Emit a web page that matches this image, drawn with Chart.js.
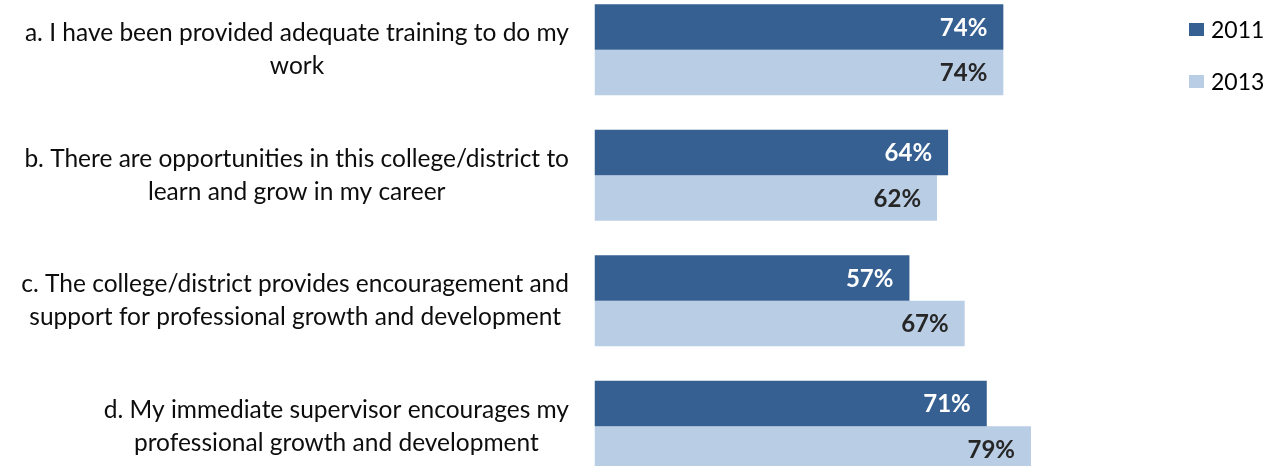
<!DOCTYPE html>
<html lang="en">
<head>
  <meta charset="UTF-8" />
  <title>Training and Professional Growth</title>
  <script src="https://cdn.jsdelivr.net/npm/chart.js"></script>
  <style>
    body { margin: 0; padding: 0; background: white; overflow: hidden; width: 1276px; height: 466px; position: relative; font-family: Lato, sans-serif; }
    .chart-box { position: absolute; left: 0; top: -13px; width: 1276px; height: 502px; }
    .legend { position: absolute; left: 1189px; top: 14px; }
    .legend div { display: flex; align-items: center; font-size: 23px; color: #000; height: 30px; margin-bottom: 22px; }
    .legend span.sw { display: inline-block; width: 15px; height: 13px; margin-right: 7px; }
  </style>
</head>
<body>
  <div class="chart-box"><canvas id="chart"></canvas></div>
  <div class="legend" id="legend"></div>

  <script>
    const questions = [
      ["a. I have been provided adequate training to do my", "work"],
      ["b. There are opportunities in this college/district to", "learn and grow in my career"],
      ["c. The college/district provides encouragement and", "support for professional growth and development"],
      ["d. My immediate supervisor encourages my", "professional growth and development"]
    ];
    const years = ["2011", "2013"];
    const pct2011 = [74, 64, 57, 71];
    const pct2013 = [74, 62, 67, 79];

    const colors = ["#376092", "#B9CDE5"];
    const labelColors = ["#ffffff", "#262626"];
    const labelFont = "Lato, sans-serif";

    // question text, right-aligned block with centred lines
    const questionLabels = {
      id: "questionLabels",
      afterDraw(chart) {
        const ctx = chart.ctx;
        const y = chart.scales.y;
        ctx.save();
        ctx.font = "24.5px " + labelFont;
        ctx.fillStyle = "#0d0d0d";
        ctx.textAlign = "center";
        ctx.textBaseline = "middle";
        const lineH = 33;
        questions.forEach((lines, i) => {
          const widest = Math.max(...lines.map(l => ctx.measureText(l).width));
          const cx = 569 - widest / 2;
          const cy = y.getPixelForTick(i);
          const top = cy - (lines.length - 1) * lineH / 2;
          lines.forEach((l, j) => ctx.fillText(l, cx, top + j * lineH));
        });
        ctx.restore();
      }
    };

    // percentage inside the end of each bar
    const barValues = {
      id: "barValues",
      afterDatasetsDraw(chart) {
        const ctx = chart.ctx;
        ctx.save();
        ctx.font = "bold 24px " + labelFont;
        ctx.textAlign = "right";
        ctx.textBaseline = "middle";
        chart.data.datasets.forEach((ds, d) => {
          ctx.fillStyle = labelColors[d];
          chart.getDatasetMeta(d).data.forEach((bar, i) => {
            ctx.fillText(ds.data[i] + "%", bar.x - 16, bar.y + 1);
          });
        });
        ctx.restore();
      }
    };

    const chart = new Chart(document.getElementById("chart"), {
      type: "bar",
      data: {
        labels: questions.map(q => q.join(" ")),
        datasets: [
          { label: years[0], data: pct2011, backgroundColor: colors[0] },
          { label: years[1], data: pct2013, backgroundColor: colors[1] }
        ]
      },
      options: {
        indexAxis: "y",
        responsive: true,
        maintainAspectRatio: false,
        animation: false,
        layout: { padding: { left: 0, right: 129, top: 0, bottom: 0 } },
        datasets: { bar: { categoryPercentage: 0.725, barPercentage: 1.0 } },
        scales: {
          x: { min: 0, max: 100, display: false },
          y: {
            grid: { display: false },
            border: { display: false },
            ticks: { display: false },
            afterFit(scale) { scale.width = 594.5; }
          }
        },
        plugins: {
          legend: { display: false },
          tooltip: { enabled: false }
        }
      },
      plugins: [questionLabels, barValues]
    });

    // legend built from the datasets
    const legend = document.getElementById("legend");
    chart.data.datasets.forEach(ds => {
      const row = document.createElement("div");
      row.innerHTML = `<span class="sw" style="background:${ds.backgroundColor}"></span>${ds.label}`;
      legend.appendChild(row);
    });
  </script>
</body>
</html>
